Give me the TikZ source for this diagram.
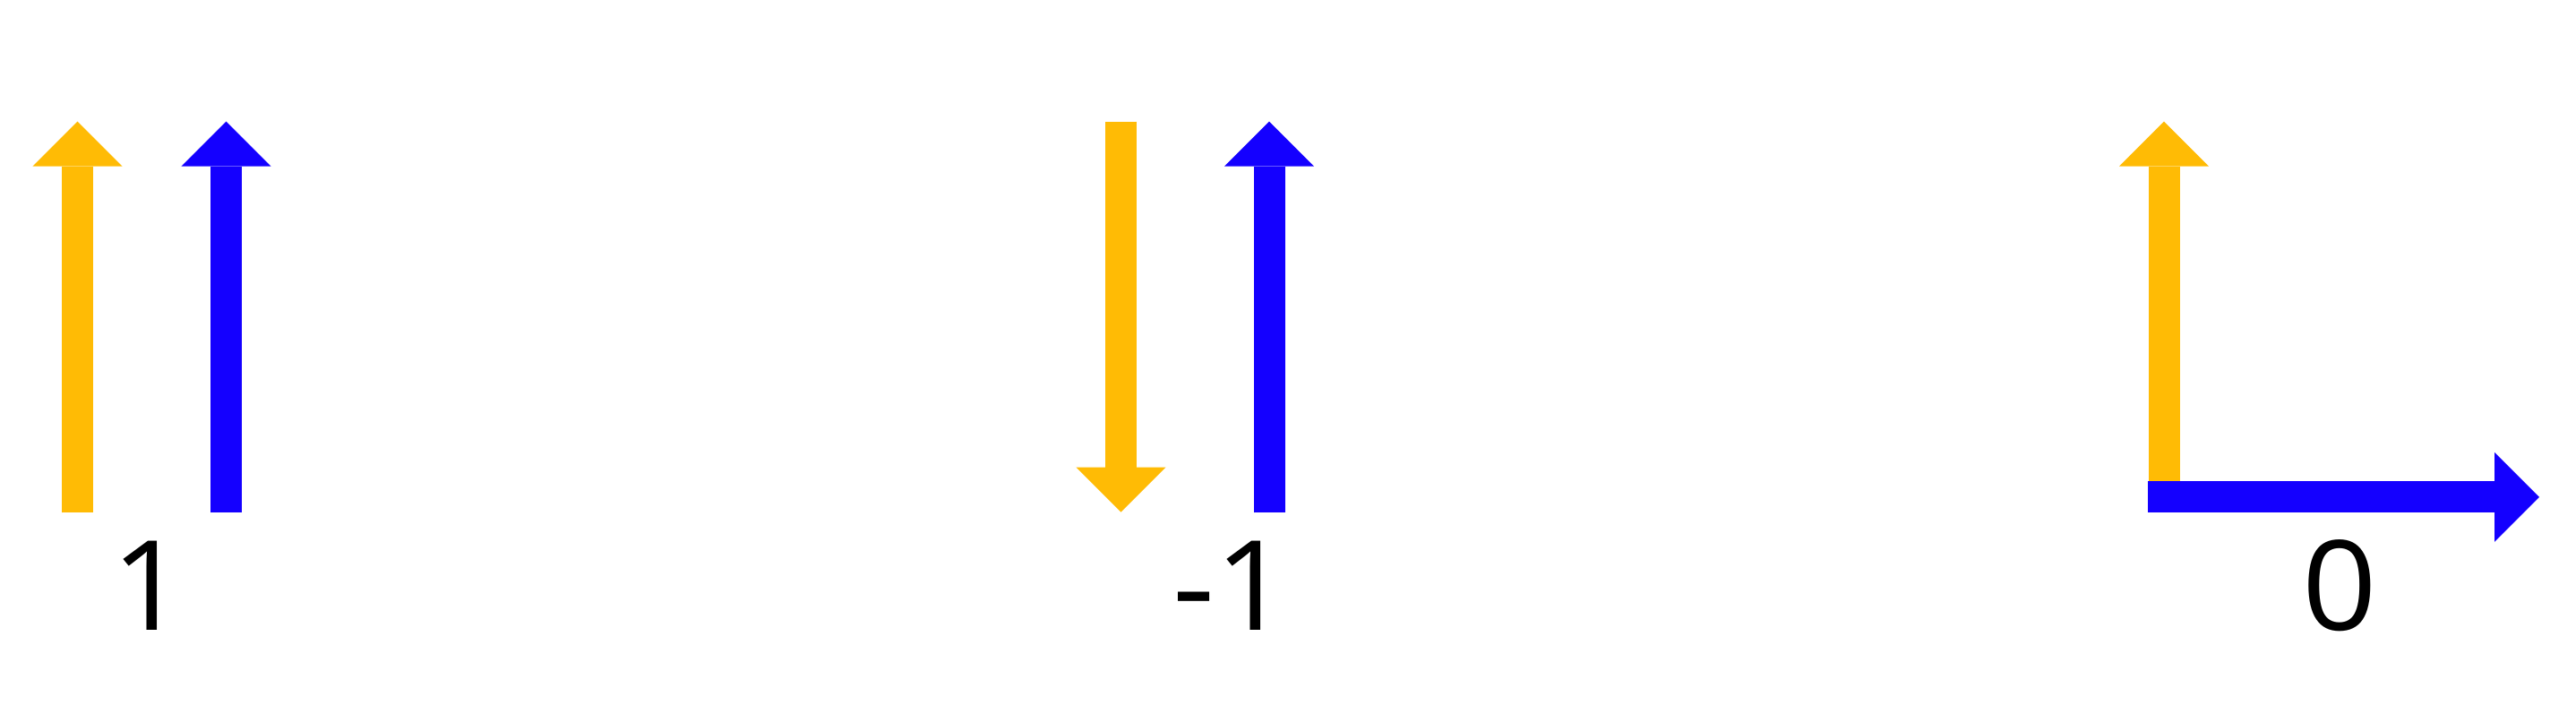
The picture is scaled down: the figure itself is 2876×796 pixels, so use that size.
\documentclass[tikz,border=0pt]{standalone}
\usepackage{fontspec}
\newfontfamily\vallabelfont{Open Sans}
\usetikzlibrary{arrows.meta}
\usepackage{xcolor}
\definecolor{SpinYellow}{HTML}{FFBB05}
\definecolor{SpinBlue}{HTML}{1400FF}
\newcommand{\wideval}[1]{\scalebox{1.05}[1]{#1}}

\begin{document}
\begin{tikzpicture}[x=0.01cm, y=-0.01cm,
    spin/.style={line width=3.5mm, -{Triangle[length=5mm, width=10mm, line width=0pt]}},
    val/.style={font=\vallabelfont\fontsize{39.6}{48}\selectfont, anchor=base, inner sep=0pt}]
  \useasboundingbox (0,0) rectangle (2876,796);
  % parallel: product 1
  \coordinate (ya) at (86.5,572.3);  \coordinate (yb) at (86.5,135.7);
  \coordinate (ba) at (252.5,572.3); \coordinate (bb) at (252.5,135.7);
  \draw[spin, SpinYellow] (ya) -- (yb);
  \draw[spin, SpinBlue] (ba) -- (bb);
  \node[val] (par) at (166,703.3) {\wideval{1}};
  % antiparallel: product -1
  \coordinate (yc) at (1251.5,135.5); \coordinate (yd) at (1251.5,571.7);
  \coordinate (bc) at (1417,572.3);   \coordinate (bd) at (1417,135.7);
  \draw[spin, SpinYellow] (yc) -- (yd);
  \draw[spin, SpinBlue] (bc) -- (bd);
  \node[val] (anti) at (1375,703.3) {\wideval{-1}};
  % orthogonal: product 0
  \coordinate (ye) at (2416,570);    \coordinate (yf) at (2416,135.7);
  \coordinate (be) at (2398.3,554.8); \coordinate (bf) at (2835,554.8);
  \draw[spin, SpinYellow] (ye) -- (yf);
  \draw[spin, SpinBlue] (be) -- (bf);
  \node[val] (orth) at (2611.8,703.3) {\wideval{0}};
\end{tikzpicture}
\end{document}
